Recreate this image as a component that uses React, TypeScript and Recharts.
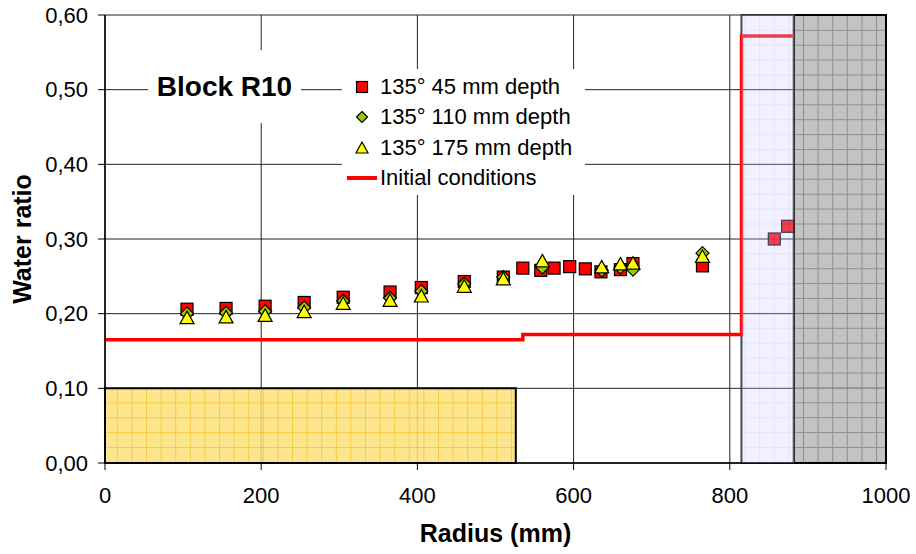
import React from 'react';
import {
  ComposedChart,
  Scatter,
  Line,
  XAxis,
  YAxis,
  CartesianGrid,
  ReferenceArea,
  Legend,
  Label,
} from 'recharts';

// ---- data ----
const radius45 = [105, 155, 205, 255, 305, 365, 405, 460, 510, 535, 558, 575, 595, 615, 635, 660, 676, 765, 857, 874];
const ratio45 = [0.206, 0.207, 0.21, 0.215, 0.222, 0.229, 0.235, 0.243, 0.249, 0.261, 0.258, 0.261, 0.263, 0.26, 0.256, 0.259, 0.267, 0.264, 0.3, 0.317];

const radiusDeep = [105, 155, 205, 255, 305, 365, 405, 460, 510, 560, 636, 660, 676, 765];
const ratio110 = [0.2, 0.201, 0.203, 0.208, 0.217, 0.221, 0.23, 0.24, 0.249, 0.262, 0.258, 0.262, 0.259, 0.281];
const ratio175 = [0.194, 0.195, 0.197, 0.202, 0.213, 0.217, 0.223, 0.236, 0.246, 0.27, 0.262, 0.266, 0.267, 0.276];

const initRadius = [0, 535, 535, 815, 815, 882];
const initRatio = [0.165, 0.165, 0.172, 0.172, 0.572, 0.572];

const xTicks = [0, 200, 400, 600, 800, 1000];
const yTicks = [0, 0.1, 0.2, 0.3, 0.4, 0.5, 0.6];

const seriesNames = ['135° 45 mm depth', '135° 110 mm depth', '135° 175 mm depth', 'Initial conditions'];
const chartTitle = 'Block R10';
const xTitle = 'Radius (mm)';
const yTitle = 'Water ratio';

// zones [x1, x2, y1, y2]
const soilZone = [0, 526, 0, 0.1];
const blueZone = [815, 882, 0, 0.6];
const grayZone = [882, 1000, 0, 0.6];

const data45 = radius45.map((x, i) => ({ x, y: ratio45[i] }));
const data110 = radiusDeep.map((x, i) => ({ x, y: ratio110[i] }));
const data175 = radiusDeep.map((x, i) => ({ x, y: ratio175[i] }));
const dataInit = initRadius.map((x, i) => ({ x, y: initRatio[i] }));

const FONT = '"Liberation Sans", Arial, sans-serif';

const SquareShape = (props: any) => {
  const { cx, cy } = props;
  if (cx == null || cy == null) return null;
  return <rect x={cx - 6} y={cy - 6} width={12} height={12} fill="#ff0000" stroke="#000" strokeWidth={1.2} />;
};
const DiamondShape = (props: any) => {
  const { cx, cy } = props;
  if (cx == null || cy == null) return null;
  const r = 6.5;
  return (
    <polygon
      points={`${cx},${cy - r} ${cx + r},${cy} ${cx},${cy + r} ${cx - r},${cy}`}
      fill="#99cc00"
      stroke="#000"
      strokeWidth={1.2}
    />
  );
};
const TriangleShape = (props: any) => {
  const { cx, cy } = props;
  if (cx == null || cy == null) return null;
  return (
    <polygon
      points={`${cx},${cy - 7} ${cx + 7},${cy + 5.5} ${cx - 7},${cy + 5.5}`}
      fill="#ffff00"
      stroke="#000"
      strokeWidth={1.2}
    />
  );
};

const legendMarker = (i: number) => {
  const cx = 20;
  const cy = 15;
  if (i === 0) return <rect x={cx - 5.5} y={cy - 5.5} width={11} height={11} fill="#ff0000" stroke="#000" strokeWidth={1.2} />;
  if (i === 1)
    return <polygon points={`${cx},${cy - 5.5} ${cx + 5.5},${cy} ${cx},${cy + 5.5} ${cx - 5.5},${cy}`} fill="#99cc00" stroke="#000" strokeWidth={1.2} />;
  if (i === 2)
    return <polygon points={`${cx},${cy - 6} ${cx + 6},${cy + 5} ${cx - 6},${cy + 5}`} fill="#ffff00" stroke="#000" strokeWidth={1.2} />;
  return <line x1={5} x2={35} y1={cy} y2={cy} stroke="#ff0000" strokeWidth={4} />;
};

const renderLegend = () => (
  <div
    style={{
      background: '#fff',
      width: 243,
      height: 126,
      boxSizing: 'border-box',
      paddingTop: 2.5,
      fontFamily: FONT,
      fontSize: 22,
      color: '#000',
    }}
  >
    {seriesNames.map((name, i) => (
      <div key={name} style={{ display: 'flex', alignItems: 'center', height: 30.5, lineHeight: '30.5px', whiteSpace: 'nowrap' }}>
        <svg width={38} height={30} style={{ flex: '0 0 38px' }}>
          {legendMarker(i)}
        </svg>
        <span>{name}</span>
      </div>
    ))}
  </div>
);

const fmtY = (v: number) => v.toFixed(2).replace('.', ',');

export default function App() {
  return (
    <div style={{ position: 'absolute', left: 0, top: 0, width: 916, height: 554, background: '#fff', fontFamily: FONT }}>
      <ComposedChart width={916} height={554} margin={{ top: 15, right: 30, bottom: 0, left: 0 }}>
        <defs>
          <pattern id="gridYellow" width={14.6} height={14.9} patternUnits="userSpaceOnUse">
            <rect width={14.6} height={14.9} fill="#fce078" />
            <path d="M0 0.5 H14.6 M0.5 0 V14.9" stroke="#f7c31e" strokeWidth={1} fill="none" />
          </pattern>
          <pattern id="gridGray" width={14.6} height={14.9} patternUnits="userSpaceOnUse">
            <rect width={14.6} height={14.9} fill="#b8b8b8" />
            <path d="M0 0.5 H14.6 M0.5 0 V14.9" stroke="#7c7c7c" strokeWidth={1} fill="none" />
          </pattern>
          <pattern id="gridBlue" width={14.6} height={14.9} patternUnits="userSpaceOnUse">
            <rect width={14.6} height={14.9} fill="#cfcfff" />
            <path d="M0 0.5 H14.6 M0.5 0 V14.9" stroke="#a4a4ff" strokeWidth={1} fill="none" />
          </pattern>
        </defs>
        <CartesianGrid stroke="#222" strokeWidth={1} />
        <ReferenceArea
          x1={soilZone[0]}
          x2={soilZone[1]}
          y1={soilZone[2]}
          y2={soilZone[3]}
          fill="url(#gridYellow)"
          fillOpacity={0.85}
          stroke="#000"
          strokeWidth={2}
          ifOverflow="visible"
          zIndex={-50}
        />
        <ReferenceArea
          x1={grayZone[0]}
          x2={grayZone[1]}
          y1={grayZone[2]}
          y2={grayZone[3]}
          fill="url(#gridGray)"
          fillOpacity={0.85}
          stroke="#000"
          strokeWidth={2}
          ifOverflow="visible"
          zIndex={-50}
        />
        <ReferenceArea
          x1={blueZone[0]}
          x2={blueZone[1]}
          y1={blueZone[2]}
          y2={blueZone[3]}
          fill="none"
          stroke="#333"
          strokeWidth={2}
          ifOverflow="visible"
          zIndex={-40}
        />
        <XAxis
          type="number"
          dataKey="x"
          domain={[0, 1000]}
          ticks={xTicks}
          height={91}
          tickSize={7}
          tickMargin={17}
          tick={{ fill: '#000', fontSize: 22, fontFamily: FONT }}
          axisLine={{ stroke: '#000', strokeWidth: 1.5 }}
          tickLine={{ stroke: '#000' }}
          allowDataOverflow
        >
          <Label value={xTitle} position="insideBottom" offset={12} style={{ fontWeight: 'bold', fontSize: 25, fill: '#000', fontFamily: FONT }} />
        </XAxis>
        <YAxis
          type="number"
          domain={[0, 0.6]}
          ticks={yTicks}
          width={105}
          tickSize={7}
          tickMargin={10}
          tickFormatter={fmtY}
          tick={{ fill: '#000', fontSize: 22, fontFamily: FONT }}
          axisLine={{ stroke: '#000', strokeWidth: 1.5 }}
          tickLine={{ stroke: '#000' }}
          allowDataOverflow
        >
          <Label
            value={yTitle}
            angle={-90}
            position="insideLeft"
            offset={22}
            style={{ textAnchor: 'middle', fontWeight: 'bold', fontSize: 25, fill: '#000', fontFamily: FONT }}
          />
        </YAxis>
        <Scatter name={seriesNames[0]} data={data45} dataKey="y" shape={SquareShape} isAnimationActive={false} />
        <Scatter name={seriesNames[1]} data={data110} dataKey="y" shape={DiamondShape} isAnimationActive={false} />
        <Scatter name={seriesNames[2]} data={data175} dataKey="y" shape={TriangleShape} isAnimationActive={false} />
        <Line
          name={seriesNames[3]}
          data={dataInit}
          dataKey="y"
          type="linear"
          stroke="#ff0000"
          strokeWidth={3.5}
          dot={false}
          activeDot={false}
          isAnimationActive={false}
        />
        <ReferenceArea
          x1={blueZone[0]}
          x2={blueZone[1]}
          y1={blueZone[2]}
          y2={blueZone[3]}
          fill="url(#gridBlue)"
          fillOpacity={0.3}
          stroke="none"
          ifOverflow="visible"
          zIndex={1500}
        />
        <Legend
          layout="vertical"
          align="center"
          verticalAlign="middle"
          content={renderLegend}
          wrapperStyle={{ position: 'absolute', left: 342, top: 69, width: 243, height: 126 }}
        />
      </ComposedChart>
      <div
        style={{
          position: 'absolute',
          left: 148,
          top: 50,
          width: 153,
          height: 73,
          background: '#fff',
          display: 'flex',
          alignItems: 'center',
          justifyContent: 'center',
          fontWeight: 'bold',
          fontSize: 28,
          color: '#000',
          whiteSpace: 'nowrap',
        }}
      >
        {chartTitle}
      </div>
    </div>
  );
}
